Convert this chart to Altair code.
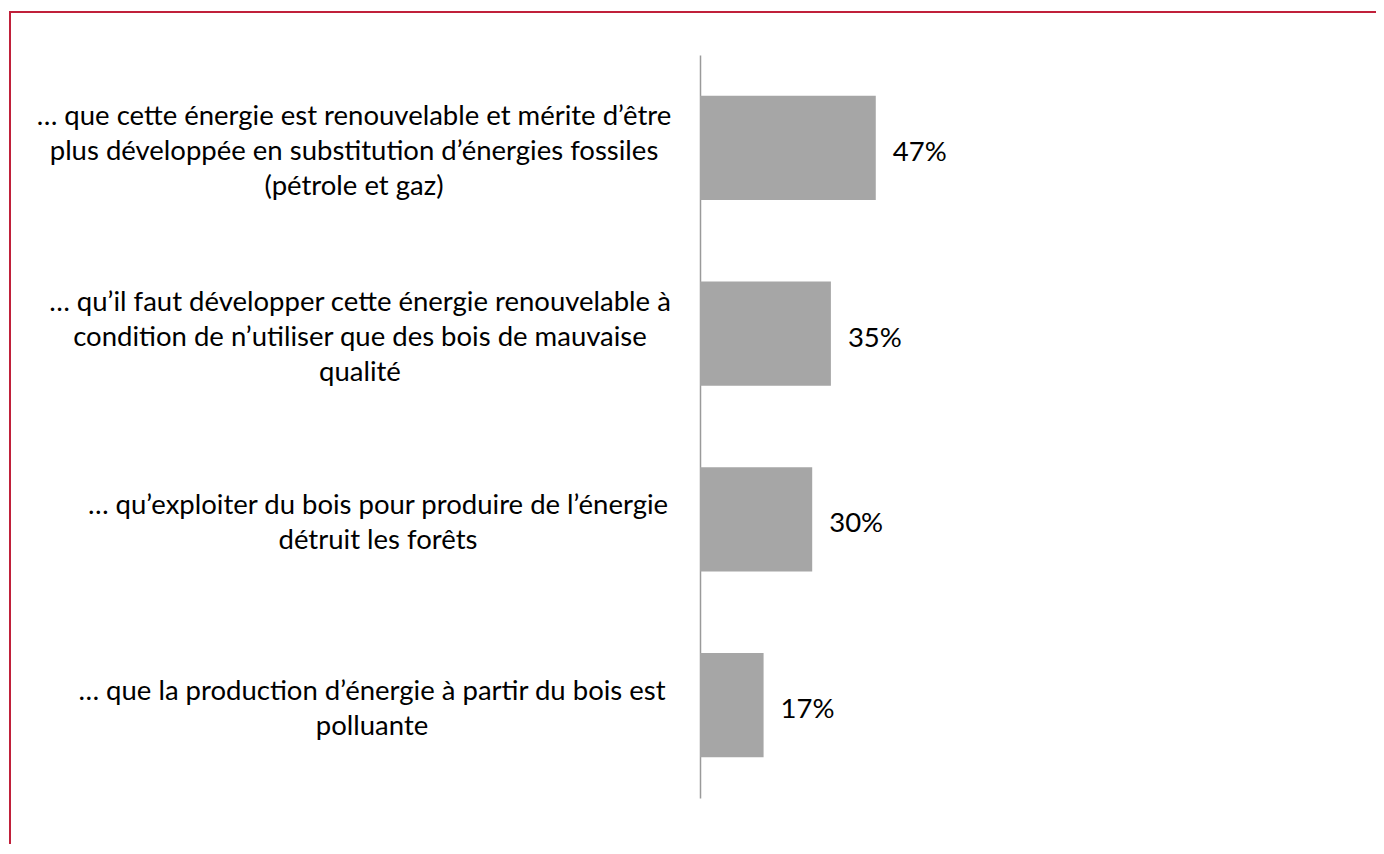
import altair as alt
import pandas as pd

categories = [
    "… que cette énergie est renouvelable et mérite d’être|plus développée en substitution d’énergies fossiles|(pétrole et gaz)",
    "… qu’il faut développer cette énergie renouvelable à|condition de n’utiliser que des bois de mauvaise|qualité",
    "… qu’exploiter du bois pour produire de l’énergie|détruit les forêts",
    "… que la production d’énergie à partir du bois est|polluante",
]
values = [47, 35, 30, 17]

FONT = "Lato"
FS = 27.5
CHARW = 12.0  # approx. average glyph advance used to centre each label block
LH = 35

df = pd.DataFrame({"cat": categories, "val": values})

W, H = 374, 743
PAD_L, PAD_T = 692, 47
CANVAS_W, CANVAS_H = 1368, 836
P_IN, P_OUT = 0.44, 0.22
BANDW = H / (len(categories) - P_IN + 2 * P_OUT) * (1 - P_IN)

y_enc = alt.Y("cat:N", sort=categories,
              scale=alt.Scale(paddingInner=P_IN, paddingOuter=P_OUT),
              axis=alt.Axis(labels=False, ticks=False, title=None, grid=False,
                            domainColor="#9a9a9a", domainWidth=1.5))
x_scale = alt.Scale(domain=[0, 100], nice=False)

bars = alt.Chart(df).mark_bar(color="#A6A6A6").encode(
    x=alt.X("val:Q", scale=x_scale, axis=None),
    y=y_enc,
)

pct = alt.Chart(df).transform_calculate(
    txt="datum.val + '%'"
).mark_text(align="left", baseline="middle", dx=17, dy=5, font=FONT,
            fontSize=FS, color="#000000").encode(
    x=alt.X("val:Q", scale=x_scale, axis=None),
    y=alt.Y("cat:N", sort=categories),
    text="txt:N",
)

labels = alt.Chart(df).transform_calculate(
    parts="split(datum.cat, '|')"
).transform_calculate(
    nlines="datum.parts.length",
    maxlen="max(length(datum.parts[0]), length(datum.parts.length > 1 ? datum.parts[1] : ''), length(datum.parts.length > 2 ? datum.parts[2] : ''))"
).transform_calculate(
    cx=f"-28 - datum.maxlen * {CHARW} / 2",
    off=f"{BANDW / 2} - (datum.nlines - 1) * {LH} / 2 + 4",
).mark_text(align="center", baseline="middle", lineBreak="|", lineHeight=LH,
            font=FONT, fontSize=FS, color="#000000").encode(
    x=alt.X("cx:Q", scale=None),
    y=alt.Y("cat:N", sort=categories),
    yOffset=alt.YOffset("off:Q", scale=None),
    text="cat:N",
)

frame = alt.Chart(alt.Data(values=[{"a": 1}])).mark_rect(
    filled=False, stroke="#C0203A", strokeWidth=2
).encode(
    x=alt.value(-690), x2=alt.value(720),
    y=alt.value(-43), y2=alt.value(900),
)

chart = alt.layer(frame, bars, pct, labels).properties(
    width=W, height=H,
    background="white",
    padding={"left": PAD_L, "top": PAD_T, "right": CANVAS_W - PAD_L - W,
             "bottom": CANVAS_H - PAD_T - H},
    autosize=alt.AutoSizeParams(type="none"),
).configure_view(strokeWidth=0, stroke="transparent")

chart.save("out.html", embed_options={"renderer": "svg", "actions": False})
